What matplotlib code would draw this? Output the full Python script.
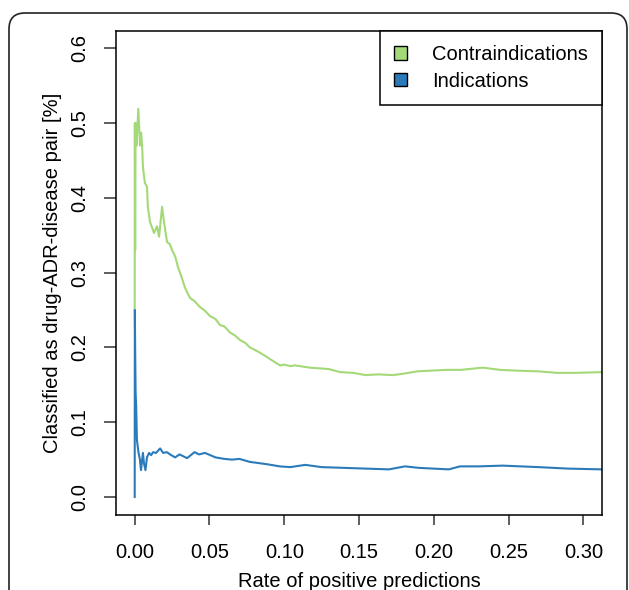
import matplotlib
matplotlib.use("Agg")
import matplotlib.pyplot as plt
from matplotlib.patches import Patch, FancyBboxPatch

plt.rcParams['font.family'] = ['Liberation Sans', 'DejaVu Sans']

# ---- data ----
contra_x = [0.0, 0.0001, 0.0003, 0.0006, 0.0012, 0.0024, 0.0036, 0.0043, 0.0050, 0.0055,
            0.0068, 0.0082, 0.0088, 0.0102, 0.0129, 0.0149, 0.0163, 0.0183, 0.0196, 0.0216,
            0.0235, 0.0250, 0.0270, 0.0290, 0.0310, 0.0336, 0.0355, 0.0370, 0.0400, 0.0436,
            0.0470, 0.0503, 0.0540, 0.0570, 0.0600, 0.0637, 0.0670, 0.0704, 0.0740, 0.0770,
            0.0800, 0.0837, 0.0870, 0.0900, 0.0940, 0.0971, 0.1000, 0.1040, 0.1070, 0.1105,
            0.1170, 0.1239, 0.1300, 0.1372, 0.1460, 0.1545, 0.1630, 0.1727, 0.1800, 0.1888,
            0.1980, 0.2088, 0.2180, 0.2280, 0.2328, 0.2442, 0.2550, 0.2700, 0.2823, 0.2950,
            0.3120]
contra_y = [0.25, 0.50, 0.33, 0.50, 0.47, 0.519, 0.47, 0.487, 0.468, 0.441,
            0.420, 0.415, 0.388, 0.368, 0.353, 0.362, 0.348, 0.388, 0.368, 0.341,
            0.338, 0.330, 0.322, 0.307, 0.296, 0.280, 0.272, 0.266, 0.262, 0.254,
            0.249, 0.242, 0.238, 0.230, 0.228, 0.220, 0.216, 0.210, 0.206, 0.200,
            0.197, 0.193, 0.189, 0.185, 0.180, 0.176, 0.177, 0.175, 0.176, 0.175,
            0.173, 0.172, 0.171, 0.167, 0.166, 0.163, 0.164, 0.163, 0.165, 0.168,
            0.169, 0.170, 0.170, 0.172, 0.173, 0.170, 0.169, 0.168, 0.166, 0.166,
            0.167]

ind_x = [0.0, 0.0001, 0.0003, 0.0006, 0.0010, 0.0015, 0.0025, 0.0035, 0.0042, 0.0055,
         0.0062, 0.0072, 0.0082, 0.0096, 0.0110, 0.0123, 0.0143, 0.0170, 0.0190, 0.0216,
         0.0236, 0.0270, 0.0300, 0.0350, 0.0400, 0.0430, 0.0470, 0.0540, 0.0600, 0.0650,
         0.0700, 0.0770, 0.0880, 0.0970, 0.1040, 0.1140, 0.1250, 0.1400, 0.1550, 0.1700,
         0.1806, 0.1900, 0.2000, 0.2100, 0.2175, 0.2300, 0.2460, 0.2700, 0.2900, 0.3120]
ind_y = [0.0, 0.25, 0.20, 0.14, 0.12, 0.076, 0.060, 0.050, 0.036, 0.059,
         0.045, 0.036, 0.053, 0.059, 0.056, 0.060, 0.059, 0.065, 0.059, 0.060,
         0.057, 0.053, 0.057, 0.052, 0.060, 0.057, 0.059, 0.053, 0.051, 0.050,
         0.051, 0.047, 0.044, 0.041, 0.040, 0.043, 0.040, 0.039, 0.038, 0.037,
         0.041, 0.039, 0.038, 0.037, 0.041, 0.041, 0.042, 0.040, 0.038, 0.037]

series_names = ["Contraindications", "Indications"]
series_colors = ["#a3d977", "#2b7bba"]
x_ticks = [0.00, 0.05, 0.10, 0.15, 0.20, 0.25, 0.30]
y_ticks = [0.0, 0.1, 0.2, 0.3, 0.4, 0.5, 0.6]

# ---- figure ----
W, H, DPI = 629, 590, 100
FS = 14.5
fig = plt.figure(figsize=(W / DPI, H / DPI), dpi=DPI)
fig.patch.set_facecolor("white")

# outer rounded frame
frame = FancyBboxPatch((9 / DPI, -0.5), (627 - 9) / DPI, (H - 13) / DPI + 0.5,
                       boxstyle="round,pad=0,rounding_size=0.16",
                       transform=fig.dpi_scale_trans, fill=False,
                       edgecolor="#222222", linewidth=1.2, clip_on=False)
fig.patches.append(frame)

ax = fig.add_axes([116 / W, 1 - 515 / H, (602 - 116) / W, (515 - 31) / H])
ax.plot(contra_x, contra_y, color=series_colors[0], lw=1.5)
ax.plot(ind_x, ind_y, color=series_colors[1], lw=1.5)

ax.set_xlim(-0.0125, 0.3124)
ax.set_ylim(-0.024, 0.623)
ax.set_xticks(x_ticks)
ax.set_xticklabels([f"{v:.2f}" for v in x_ticks])
ax.set_yticks(y_ticks)
ax.set_yticklabels([f"{v:.1f}" for v in y_ticks], rotation=90, va="center")

for s in ax.spines.values():
    s.set_color("black")
    s.set_linewidth(1.1)

ax.tick_params(axis="both", direction="out", width=1.1, color="#333333",
               labelsize=FS, labelcolor="black")
ax.tick_params(axis="x", length=7, pad=13.5)
ax.tick_params(axis="y", length=8.5, pad=11)

ax.set_xlabel("Rate of positive predictions", fontsize=FS, labelpad=7)
ax.set_ylabel("Classified as drug-ADR-disease pair [%]", fontsize=FS, labelpad=6)

handles = [Patch(facecolor=c, edgecolor="black", linewidth=1.0) for c in series_colors]
leg = ax.legend(handles, series_names, loc="upper right", bbox_to_anchor=(1, 1),
                borderaxespad=0, fancybox=False, framealpha=1, edgecolor="black",
                fontsize=FS, handlelength=0.62, handleheight=0.62, handletextpad=1.25,
                labelspacing=0.38, borderpad=0.7)
leg.get_frame().set_linewidth(1.1)

fig.savefig("out.png", dpi=DPI)
